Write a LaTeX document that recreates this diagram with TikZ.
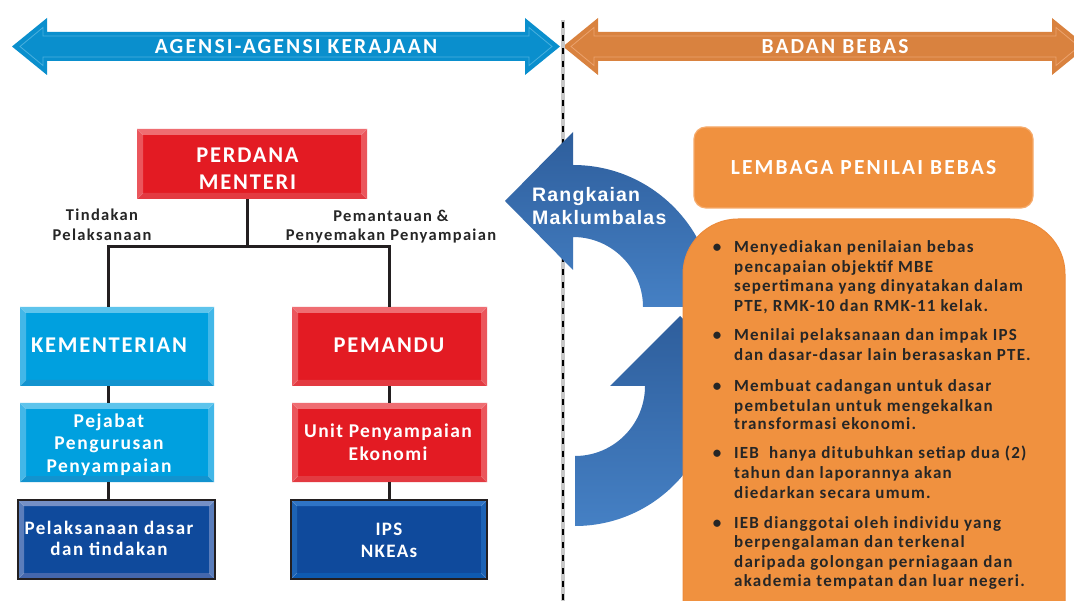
\documentclass[tikz,border=0pt]{standalone}
\usepackage{fontspec}
\setmainfont{Carlito}
\newfontfamily\calh{Carlito}[LetterSpace=10]
\newfontfamily\calb{Carlito}[LetterSpace=8]
\newfontfamily\calt{Carlito}[LetterSpace=7]
\newfontfamily\arialb{Liberation Sans}[LetterSpace=6]
\definecolor{arrblue}{HTML}{0A8FCD}
\definecolor{arrblueL}{HTML}{4AB0DE}
\definecolor{arrorg}{HTML}{D9823F}
\definecolor{arrorgL}{HTML}{EBA36E}
\definecolor{redM}{HTML}{E31B23}
\definecolor{redT}{HTML}{EF6D72}
\definecolor{redS}{HTML}{EB565C}
\definecolor{redB}{HTML}{E33A41}
\definecolor{lbM}{HTML}{00A0DF}
\definecolor{lbT}{HTML}{5EC4EC}
\definecolor{lbS}{HTML}{42B7E8}
\definecolor{lbB}{HTML}{1293CF}
\definecolor{dbM}{HTML}{0F4A9C}
\definecolor{dbT}{HTML}{7590C6}
\definecolor{dbS}{HTML}{5A7DBB}
\definecolor{dbB}{HTML}{4467AD}
\definecolor{ipsT}{HTML}{2F74C5}
\definecolor{ipsS}{HTML}{1D63B5}
\definecolor{ipsB}{HTML}{0E5AB0}
\definecolor{fbT}{HTML}{2E5E9C}
\definecolor{fbB}{HTML}{4580C4}
\definecolor{orgbox}{HTML}{F0913F}
\definecolor{orgedge}{HTML}{F6AB6C}
\definecolor{txtdark}{HTML}{262626}
\definecolor{linec}{HTML}{231F20}
\tikzset{
  bvl/.style n args={4}{fill=#1, inner sep=0pt, path picture={
    \coordinate (nw) at (path picture bounding box.north west);
    \coordinate (ne) at (path picture bounding box.north east);
    \coordinate (sw) at (path picture bounding box.south west);
    \coordinate (se) at (path picture bounding box.south east);
    \fill[#2] (nw) -- (ne) -- ([shift={(-6pt,-6pt)}]ne) -- ([shift={(6pt,-6pt)}]nw) -- cycle;
    \fill[#3] (nw) -- ([shift={(6pt,-6pt)}]nw) -- ([shift={(6pt,6pt)}]sw) -- (sw) -- cycle;
    \fill[#3] (ne) -- ([shift={(-6pt,-6pt)}]ne) -- ([shift={(-6pt,6pt)}]se) -- (se) -- cycle;
    \fill[#4] (sw) -- (se) -- ([shift={(-6pt,6pt)}]se) -- ([shift={(6pt,6pt)}]sw) -- cycle;
    \draw[white, opacity=0.3, line width=0.6pt] (nw) -- ([shift={(6pt,-6pt)}]nw) (ne) -- ([shift={(-6pt,-6pt)}]ne) (sw) -- ([shift={(6pt,6pt)}]sw) (se) -- ([shift={(-6pt,6pt)}]se);
  }},
  redbox/.style={bvl={redM}{redT}{redS}{redB}},
  lbbox/.style={bvl={lbM}{lbT}{lbS}{lbB}},
  dbbox/.style={bvl={dbM}{dbT}{dbS}{dbB}, draw=linec, line width=1.6pt},
  ipsbox/.style={bvl={dbM}{ipsT}{ipsS}{ipsB}, draw=linec, line width=1.6pt},
  boxtxt/.style={text=white, align=center, inner sep=0pt},
  conn/.style={draw=linec, line width=3pt},
  lbl/.style={text=txtdark, align=center, inner sep=0pt, font=\calb\bfseries\fontsize{16.5}{19.5}\selectfont},
  btxt/.style={text=txtdark, anchor=base west, inner sep=0pt, font=\calt\bfseries\fontsize{17}{19.5}\selectfont},
  bul/.style={text=txtdark, anchor=base, inner sep=0pt, font=\calt\bfseries\fontsize{17}{19.5}\selectfont},
  hdtxt/.style={text=white, inner sep=0pt, font=\calh\bfseries\fontsize{21.5}{24}\selectfont},
  fbtxt/.style={text=white, anchor=base west, inner sep=0pt, font=\arialb\bfseries\fontsize{19.5}{23}\selectfont},
}
\begin{document}
\begin{tikzpicture}[x=1pt,y=-1pt]
\useasboundingbox (0,0) rectangle (1074,601);
\fill[white] (0,0) rectangle (1074,601);

% top arrows
\fill[arrblue] (12,46.5) -- (47,18) -- (47,32) -- (525,32) -- (525,18) -- (560,46.5) -- (525,75) -- (525,61) -- (47,61) -- (47,75) -- cycle;
\draw[arrblueL, line width=0.8pt] (20,46.5) -- (43,27.5) -- (43,36) -- (529,36) -- (529,27.5) -- (552,46.5) -- (529,65.5) -- (529,57) -- (43,57) -- (43,65.5) -- cycle;
\fill[arrorg] (563,46.5) -- (598,18) -- (598,32) -- (1052,32) -- (1052,18) -- (1087,46.5) -- (1052,75) -- (1052,61) -- (598,61) -- (598,75) -- cycle;
\draw[arrorgL, line width=0.8pt] (571,46.5) -- (594,27.5) -- (594,36) -- (1056,36) -- (1056,27.5) -- (1079,46.5) -- (1056,65.5) -- (1056,57) -- (594,57) -- (594,65.5) -- cycle;
\node[hdtxt] (agensi) at (296,46.5) {AGENSI-AGENSI KERAJAAN};
\node[hdtxt] (badan) at (835,46.5) {BADAN BEBAS};

% dashed divider
\draw[line width=3.5pt, black!22] (563,20) -- (563,601);
\draw[line width=2.4pt, black, dash pattern=on 6pt off 7pt] (563,22) -- (563,601);

% org chart
\coordinate (j) at (247.5,247);
\coordinate (jl) at (108,247);
\coordinate (jr) at (389,247);

\node[redbox, minimum width=230pt, minimum height=70pt] (pm) at (252,164) {};
\node[lbbox, minimum width=194pt, minimum height=79pt] (kem) at (117,346.5) {};
\node[lbbox, minimum width=194pt, minimum height=79pt] (pej) at (117,442.5) {};
\node[dbbox, minimum width=197pt, minimum height=79pt] (pel) at (116.5,539.5) {};
\node[redbox, minimum width=195pt, minimum height=79pt] (pem) at (389.5,346.5) {};
\node[redbox, minimum width=195pt, minimum height=79pt] (unit) at (389.5,442.5) {};
\node[ipsbox, minimum width=196pt, minimum height=79pt] (ips) at (389,539.5) {};

\draw[conn] (pm.south -| j) -- (j);
\draw[conn] (jl |- kem.north) -- (jl) -- (jr) -- (jr |- pem.north);
\draw[conn] (kem.south -| jl) -- (pej.north -| jl);
\draw[conn] (pej.south -| jl) -- (pel.north -| jl);
\draw[conn] (pem.south -| jr) -- (unit.north -| jr);
\draw[conn] (unit.south -| jr) -- (ips.north -| jr);

\node[boxtxt, font=\calb\bfseries\fontsize{22.5}{27}\selectfont] (pmt) at (247.5,168.5) {PERDANA\\MENTERI};
\node[boxtxt, font=\calb\bfseries\fontsize{22.5}{26}\selectfont] (kemt) at (109,345) {KEMENTERIAN};
\node[boxtxt, font=\calb\bfseries\fontsize{19.5}{22.5}\selectfont] (pejt) at (109,444.5) {Pejabat\\Pengurusan\\Penyampaian};
\node[boxtxt, font=\calb\bfseries\fontsize{19}{21}\selectfont] (pelt) at (109,538) {Pelaksanaan dasar\\dan tindakan};
\node[boxtxt, font=\calb\bfseries\fontsize{22.5}{26}\selectfont] (pemt) at (389,345) {PEMANDU};
\node[boxtxt, font=\calt\bfseries\fontsize{19.5}{23}\selectfont] (unitt) at (388,442.5) {Unit Penyampaian\\Ekonomi};
\node[boxtxt, font=\calt\bfseries\fontsize{19}{22}\selectfont] (ipst) at (389,540) {IPS\\NKEAs};

\node[lbl] (tind) at (102,225) {Tindakan\\Pelaksanaan};
\node[lbl] (pant) at (391,226.5) {Pemantauan \&\\Penyemakan Penyampaian};

% feedback arrows
\shade[top color=fbT, bottom color=fbB] (643,307) arc[start angle=0, end angle=-90, radius=70] -- (573,270) -- (505,201) -- (573,132) -- (573,165) arc[start angle=-90, end angle=0, radius=142] -- cycle;
\shade[top color=fbT, bottom color=fbB] (575,456) arc[start angle=90, end angle=0, radius=70] -- (610,386) -- (680,316) -- (750,386) -- (715,386) arc[start angle=0, end angle=90, radius=140] -- cycle;
\node[fbtxt] (rk) at (532,201.5) {Rangkaian};
\node[fbtxt] (mk) at (532,225) {Maklumbalas};

% orange boxes
\node[fill=orgbox, draw=orgedge, line width=1.2pt, rounded corners=12pt, minimum width=339pt, minimum height=81pt, inner sep=0pt, text=white, font=\calh\bfseries\fontsize{21.5}{24}\selectfont] (lpb) at (863.5,167.5) {LEMBAGA PENILAI BEBAS};
\filldraw[fill=orgbox, draw={rgb,255:red,236;green,138;blue,58}, line width=1pt, rounded corners=55pt] (683,219) rectangle (1065,660);

\foreach \yy in {252.5,340.5,391.5,458.8,528.2} { \node[bul] at (717,\yy) {•}; }
\node[btxt] (b11) at (734,252.2) {Menyediakan penilaian bebas};
\node[btxt] (b12) at (734,272.2) {pencapaian objektif MBE};
\node[btxt] (b13) at (734,291.5) {sepertimana yang dinyatakan dalam};
\node[btxt] (b14) at (734,311.2) {PTE, RMK-10 dan RMK-11 kelak.};
\node[btxt] (b21) at (734,340.5) {Menilai pelaksanaan dan impak IPS};
\node[btxt] (b22) at (734,360.5) {dan dasar-dasar lain berasaskan PTE.};
\node[btxt] (b31) at (734,391.5) {Membuat cadangan untuk dasar};
\node[btxt] (b32) at (734,411.5) {pembetulan untuk mengekalkan};
\node[btxt] (b33) at (734,429.8) {transformasi ekonomi.};
\node[btxt] (b41) at (734,458.8) {IEB\ \ hanya ditubuhkan setiap dua (2)};
\node[btxt] (b42) at (734,478.8) {tahun dan laporannya akan};
\node[btxt] (b43) at (734,498.2) {diedarkan secara umum.};
\node[btxt] (b51) at (734,528.2) {IEB dianggotai oleh individu yang};
\node[btxt] (b52) at (734,547.5) {berpengalaman dan terkenal};
\node[btxt] (b53) at (734,567.2) {daripada golongan perniagaan dan};
\node[btxt] (b54) at (734,586.5) {akademia tempatan dan luar negeri.};
\end{tikzpicture}
\end{document}
